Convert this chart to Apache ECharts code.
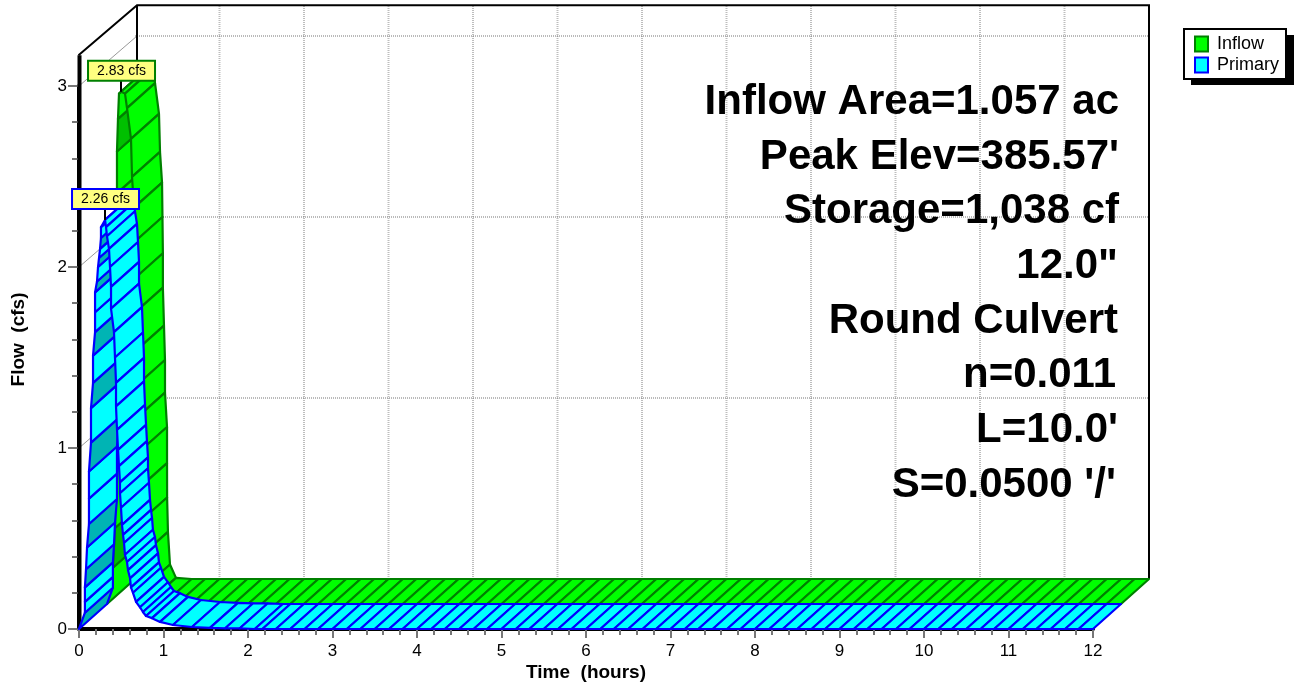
<!DOCTYPE html>
<html>
<head>
<meta charset="utf-8">
<style>html,body{margin:0;padding:0;background:#fff}#c{width:1294px;height:686px}</style>
<script src="https://cdn.jsdelivr.net/npm/echarts@6/dist/echarts.min.js"></script>
</head>
<body>
<div id="c"></div>
<script>
const hourTicks = [1,2,3,4,5,6,7,8,9,10,11];
const flowTicks = [1,2,3];
const wallTopCfs = 3.17;

const inflowHours = [0,0.07,0.095,0.1,0.105,0.11,0.118,0.118,0.13,0.142,0.166,0.213,0.237,0.284,0.296,0.32,0.325,0.33,0.33,0.343,0.355,0.355,0.379,0.379,0.38,0.39,0.414,0.485];
const inflowCfs   = [0,0.2,0.42,0.8,1.2,1.7,2.27,2.5,2.68,2.82,2.83,2.82,2.74,2.57,2.36,2.19,2.0,1.8,1.61,1.4,1.21,1.03,0.84,0.64,0.45,0.26,0.08,0.006];
const inflowDarkCells = [1,7];

const primaryHours = [0,0.07,0.07,0.07,0.083,0.095,0.118,0.118,0.118,0.142,0.142,0.166,0.166,0.19,0.19,0.19,0.213,0.225,0.237,0.249,0.26,0.26,0.308,
  0.32,0.331,0.355,0.367,0.379,0.379,0.414,0.426,0.438,0.438,0.45,0.462,0.473,0.485,0.485,0.497,0.509,0.521,0.533,0.544,0.568,0.58,0.604,0.615,0.639,0.675,0.722,0.757,0.793,0.864,0.959,1.112,1.337,1.55,1.73,1.9,2.08];
const primaryCfs   = [0,0.09,0.15,0.23,0.33,0.45,0.58,0.72,0.87,1.03,1.22,1.36,1.51,1.64,1.75,1.86,1.92,2.0,2.05,2.1,2.16,2.22,2.26,
  2.22,2.17,2.1,2.0,1.89,1.77,1.64,1.5,1.36,1.23,1.1,0.99,0.9,0.81,0.75,0.67,0.575,0.52,0.475,0.41,0.37,0.325,0.28,0.23,0.2,0.15,0.12,0.094,0.072,0.06,0.039,0.022,0.011,0.006,0.004,0.003,0];
const primaryDarkCells = [0,3,5,8,10,12,15,17,19];

const tailHours = [0.67,0.83,1,1.17,1.33,1.5,1.67,1.83,2,2.17,2.33,2.5,2.67,2.83,3,3.17,3.33,3.5,3.67,3.83,4,4.17,4.33,4.5,4.67,4.83,5,5.17,5.33,5.5,5.67,5.83,6,6.17,6.33,6.5,6.67,6.83,7,7.17,7.33,7.5,7.67,7.83,8,8.17,8.33,8.5,8.67,8.83,9,9.17,9.33,9.5,9.67,9.83,10,10.17,10.33,10.5,10.67,10.83,11,11.17,11.33,11.5,11.67,11.83,12];

const peakLabels = [
  {name:'Inflow', hour:0.166, cfs:2.83, text:'2.83 cfs', line:'#008000', depth:1},
  {name:'Primary', hour:0.308, cfs:2.26, text:'2.26 cfs', line:'#0000ff', depth:0}
];
const noteLines = ['Inflow Area=1.057 ac',"Peak Elev=385.57'",'Storage=1,038 cf','12.0"','Round Culvert','n=0.011',"L=10.0'","S=0.0500 '/'"];
const noteRight = [1119,1119,1119,1118,1118,1116,1118,1116];

const FONT = '"Liberation Sans", Arial, sans-serif';
const DX = 28, DY = -25;   // pixel shift of one ribbon depth

function buildCells(hours, cfs, dark, depth) {
  const last = hours[hours.length-1];
  const tail = tailHours.filter(t => t > last);
  const h = hours.concat(tail);
  const v = cfs.concat(tail.map(() => 0));
  const out = [];
  for (let i = 0; i + 1 < h.length; i++) out.push([h[i], v[i], h[i+1], v[i+1], dark.indexOf(i) >= 0 ? 1 : 0, depth]);
  return out;
}
function cellRenderer(fill, shade, stroke, lw) {
  return function (params, api) {
    const a = api.coord([api.value(0), api.value(1)]);
    const b = api.coord([api.value(2), api.value(3)]);
    const d = api.value(5);
    const fx = d*DX, fy = d*DY;
    const pts = [[a[0]+fx,a[1]+fy],[b[0]+fx,b[1]+fy],[b[0]+fx+DX,b[1]+fy+DY],[a[0]+fx+DX,a[1]+fy+DY]];
    return {type:'polygon', shape:{points:pts}, style:{fill: api.value(4) ? shade : fill, stroke:stroke, lineWidth:lw, lineJoin:'round'}};
  };
}
function wallRender() {
  const W = 2*DX, H = 2*DY;
  return function (params, api) {
    const kind = api.value(0), val = api.value(1);
    if (kind === 0) {
      const p0 = api.coord([val,0]), p1 = api.coord([val,wallTopCfs]);
      return {type:'line', shape:{x1:p0[0]+W,y1:p0[1]+H,x2:p1[0]+W,y2:p1[1]+H}, style:{stroke:'#bdbdbd',lineWidth:2,lineDash:[1,1]}};
    }
    if (kind === 1) {
      const p0 = api.coord([0,val]), p1 = api.coord([12,val]);
      return {type:'group', children:[
        {type:'line', shape:{x1:p0[0]+W,y1:p0[1]+H,x2:p1[0]+W,y2:p1[1]+H}, style:{stroke:'#777',lineWidth:1,lineDash:[1,1]}},
        {type:'line', shape:{x1:p0[0],y1:p0[1],x2:p0[0]+W+2,y2:p0[1]+H}, style:{stroke:'#999',lineWidth:1}}
      ]};
    }
    const o = api.coord([0,0]), tl = api.coord([0,wallTopCfs]), tr = api.coord([12,wallTopCfs]), br = api.coord([12,0]);
    return {type:'group', children:[
      {type:'line', shape:{x1:o[0]+0.5,y1:o[1],x2:tl[0]+0.5,y2:tl[1]}, style:{stroke:'#000',lineWidth:4}},
      {type:'polyline', shape:{points:[[tl[0]-0.5,tl[1]],[tl[0]+W+2,tl[1]+H],[tr[0]+W,tr[1]+H],[br[0]+W,br[1]+H]]}, style:{stroke:'#000',lineWidth:2,fill:null}},
      {type:'line', shape:{x1:tl[0]+W+2,y1:tl[1]+H,x2:o[0]+W+2,y2:o[1]+H}, style:{stroke:'#000',lineWidth:2}}
    ]};
  };
}
function peakRender(params, api) {
  const L = peakLabels[params.dataIndex];
  const p = api.coord([L.hour, L.cfs]);
  const x = p[0] + L.depth*DX, y = p[1] + L.depth*DY;
  const boxX = x - 33, boxY = y - 31;
  return {type:'group', children:[
    {type:'line', shape:{x1:x,y1:boxY+20,x2:x,y2:y}, style:{stroke:'#000',lineWidth:2}},
    {type:'rect', shape:{x:boxX,y:boxY,width:67,height:20}, style:{fill:'#ffff80',stroke:L.line,lineWidth:2}},
    {type:'text', style:{x:boxX+33.5,y:boxY+10.5,text:L.text,fill:'#000',font:'14px '+FONT,align:'center',verticalAlign:'middle'}}
  ]};
}

const wallData = [].concat(hourTicks.map(h=>[0,h]), flowTicks.map(f=>[1,f]), [[2,0]]);
const option = {
  animation:false,
  backgroundColor:'#fff',
  grid:{left:79, top:86, width:1014, height:543, containLabel:false, outerBoundsMode:'none'},
  xAxis:{type:'value',min:0,max:12,interval:1,
    name:'Time  (hours)',nameLocation:'middle',nameGap:34,nameMoveOverlap:false,
    nameTextStyle:{fontFamily:FONT,fontWeight:'bold',fontSize:19,color:'#000'},
    axisLine:{show:true,onZero:false,lineStyle:{color:'#000',width:4}},
    axisTick:{show:true,length:9,lineStyle:{color:'#777',width:2}},
    minorTick:{show:true,splitNumber:5,length:6,lineStyle:{color:'#777',width:2}},
    axisLabel:{color:'#000',fontFamily:FONT,fontSize:17,margin:14},
    splitLine:{show:false}},
  yAxis:{type:'value',min:0,max:3,interval:1,
    name:'Flow  (cfs)',nameLocation:'middle',nameGap:51,nameRotate:90,nameMoveOverlap:false,
    nameTextStyle:{fontFamily:FONT,fontWeight:'bold',fontSize:19,color:'#000',padding:[0,0,0,36]},
    axisLine:{show:true,onZero:false,lineStyle:{color:'#000',width:4}},
    axisTick:{show:true,length:11,lineStyle:{color:'#777',width:2}},
    minorTick:{show:true,splitNumber:5,length:7,lineStyle:{color:'#777',width:2}},
    axisLabel:{color:'#000',fontFamily:FONT,fontSize:17,margin:12},
    splitLine:{show:false}},
  legend:{left:1184,top:29,orient:'vertical',z:5,data:['Inflow','Primary'],
    padding:[6,7,5,10],itemGap:3,itemWidth:13,itemHeight:15,icon:'rect',selectedMode:false,
    backgroundColor:'#fff',borderColor:'#000',borderWidth:2,
    textStyle:{fontFamily:FONT,fontSize:18,color:'#000',padding:[0,0,0,4]}},
  graphic:[{type:'rect',z:0,shape:{x:1191,y:35,width:103,height:50},style:{fill:'#000'}}].concat(
    noteLines.map((t,i)=>({type:'text',z:20,x:noteRight[i],y:[102,157,211,266,321,375,430,485][i],
    style:{text:t,fill:'#000',font:'bold 42px '+FONT,textAlign:'right',textVerticalAlign:'middle'}}))),
  series:[
    {type:'custom',name:'wall',silent:true,z:1,clip:false,data:wallData,renderItem:wallRender()},
    {type:'custom',name:'Inflow',silent:true,z:3,clip:false,
      itemStyle:{color:'#00ff00',borderColor:'#008000',borderWidth:2},
      data:buildCells(inflowHours,inflowCfs,inflowDarkCells,1),
      renderItem:cellRenderer('#00ff00','#00c000','#008000',2.2)},
    {type:'custom',name:'Primary',silent:true,z:4,clip:false,
      itemStyle:{color:'#00ffff',borderColor:'#0000ff',borderWidth:2},
      data:buildCells(primaryHours,primaryCfs,primaryDarkCells,0),
      renderItem:cellRenderer('#00ffff','#00b4b4','#0000ff',2.2)},
    {type:'custom',name:'peaks',silent:true,z:6,clip:false,data:peakLabels.map(L=>[L.hour,L.cfs]),renderItem:peakRender}
  ]
};
echarts.init(document.getElementById('c'),null,{renderer:'canvas'}).setOption(option);
</script>
</body>
</html>
